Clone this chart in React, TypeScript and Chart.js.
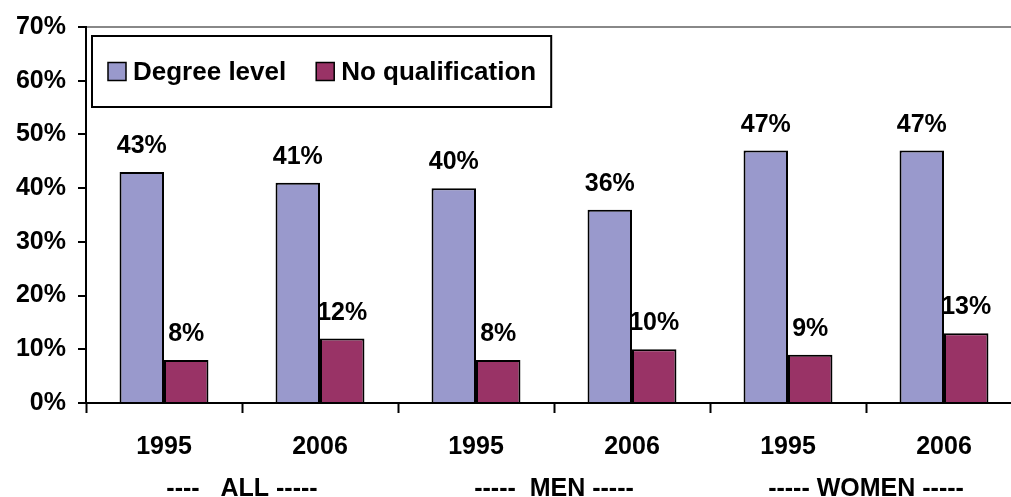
import React, { useEffect, useRef } from "react";
import { Chart, registerables } from "chart.js";

Chart.register(...registerables);

const categories = ["1995", "2006", "1995", "2006", "1995", "2006"];
const groups = ["----   ALL -----", "-----  MEN -----", "----- WOMEN -----"];
const degreeLevel = [43, 41, 40, 36, 47, 47];
const noQualification = [8, 12, 8, 10, 9, 13];
const seriesNames = ["Degree level", "No qualification"];
const seriesColors = ["#9999CC", "#993366"];

const FONT = '"Liberation Sans", Arial, Helvetica, sans-serif';

const dataLabelPlugin = {
  id: "dataLabels",
  afterDatasetsDraw(chart: any) {
    const ctx = chart.ctx;
    ctx.save();
    ctx.font = `bold 25px ${FONT}`;
    ctx.fillStyle = "#000";
    ctx.textAlign = "center";
    ctx.textBaseline = "alphabetic";
    chart.data.datasets.forEach((ds: any, i: number) => {
      const meta = chart.getDatasetMeta(i);
      meta.data.forEach((el: any, j: number) => {
        ctx.fillText(ds.data[j] + "%", el.x, el.y - 19);
      });
    });
    ctx.restore();
  },
};

const legendBoxPlugin = {
  id: "legendBox",
  afterDraw(chart: any) {
    const ctx = chart.ctx;
    const area = chart.chartArea;
    ctx.save();
    ctx.font = `bold 26px ${FONT}`;
    const left = area.left + 6;
    const top = area.top + 9;
    const height = 71;
    const mid = top + height / 2;
    let x = left + 16;
    const items: any[] = [];
    chart.data.datasets.forEach((ds: any) => {
      const w = ctx.measureText(ds.label).width;
      items.push({ label: ds.label, color: ds.backgroundColor, x, w });
      x += 18 + 7 + w + 30;
    });
    const last = items[items.length - 1];
    const right = last.x + 25 + last.w + 15;
    ctx.fillStyle = "#fff";
    ctx.fillRect(left, top, right - left, height);
    ctx.lineWidth = 2;
    ctx.strokeStyle = "#000";
    ctx.strokeRect(left, top, right - left, height);
    items.forEach((it) => {
      ctx.fillStyle = it.color;
      ctx.fillRect(it.x, mid - 9, 18, 18);
      ctx.lineWidth = 1.5;
      ctx.strokeStyle = "#000";
      ctx.strokeRect(it.x, mid - 9, 18, 18);
      ctx.fillStyle = "#000";
      ctx.textAlign = "left";
      ctx.textBaseline = "middle";
      ctx.fillText(it.label, it.x + 25, mid + 1);
    });
    ctx.restore();
  },
};

export default function App() {
  const ref = useRef<HTMLCanvasElement | null>(null);

  useEffect(() => {
    if (!ref.current) return;
    const chart = new Chart(ref.current, {
      type: "bar",
      data: {
        labels: categories,
        datasets: [
          {
            label: seriesNames[0],
            data: degreeLevel,
            backgroundColor: seriesColors[0],
            borderColor: "#000",
            borderWidth: 2,
            categoryPercentage: 0.57,
            barPercentage: 1,
          },
          {
            label: seriesNames[1],
            data: noQualification,
            backgroundColor: seriesColors[1],
            borderColor: "#000",
            borderWidth: 2,
            categoryPercentage: 0.57,
            barPercentage: 1,
          },
        ],
      },
      options: {
        responsive: false,
        animation: false,
        layout: { padding: { top: 24, right: 8, left: 0, bottom: 0 } },
        plugins: {
          legend: { display: false },
          title: { display: false },
          tooltip: { enabled: false },
        },
        scales: {
          x: {
            type: "category",
            position: "bottom",
            weight: 0,
            offset: true,
            grid: {
              offset: true,
              drawOnChartArea: false,
              drawTicks: true,
              tickLength: 10,
              tickColor: "#000",
              tickWidth: 2,
            },
            border: { display: true, color: "#000", width: 2 },
            ticks: {
              color: "#000",
              font: { family: FONT, size: 25, weight: "bold" },
              padding: 19,
              maxRotation: 0,
              autoSkip: false,
            },
            afterFit: (scale: any) => {
              scale.height = 59;
            },
          },
          x2: {
            type: "category",
            position: "bottom",
            weight: 1,
            labels: groups,
            offset: true,
            grid: { display: false, drawTicks: false },
            border: { display: false },
            ticks: {
              color: "#000",
              font: { family: FONT, size: 25, weight: "bold" },
              padding: 12,
              maxRotation: 0,
              autoSkip: false,
            },
            afterFit: (scale: any) => {
              scale.height = 35;
            },
          },
          y: {
            min: 0,
            max: 70,
            ticks: {
              stepSize: 10,
              color: "#000",
              font: { family: FONT, size: 25, weight: "bold" },
              padding: 12,
              callback: (v: any) => v + "%",
            },
            grid: {
              color: (c: any) => (c.tick && c.tick.value === 70 ? "#888888" : "rgba(0,0,0,0)"),
              lineWidth: 2,
              drawOnChartArea: true,
              drawTicks: true,
              tickLength: 8,
              tickColor: "#000",
              tickWidth: 2,
            },
            border: { display: true, color: "#000", width: 2 },
            afterFit: (scale: any) => {
              scale.width = 86;
            },
          },
        },
      },
      plugins: [dataLabelPlugin, legendBoxPlugin],
    });
    return () => chart.destroy();
  }, []);

  return (
    <div
      style={{
        position: "absolute",
        left: 0,
        top: 0,
        width: 1011,
        height: 497,
        overflow: "hidden",
        background: "#fff",
      }}
    >
      <canvas ref={ref} width={1030} height={497} style={{ display: "block" }} />
    </div>
  );
}
